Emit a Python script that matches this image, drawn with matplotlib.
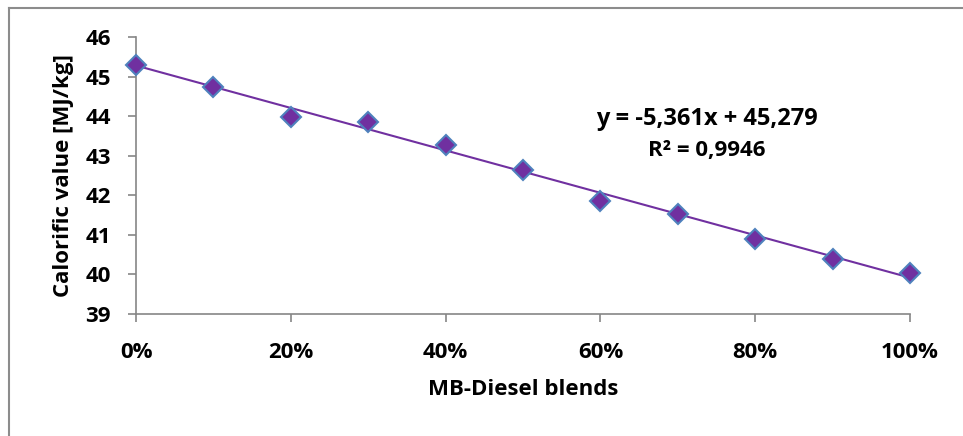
import numpy as np
import matplotlib.pyplot as plt
from matplotlib.lines import Line2D
from matplotlib.ticker import FuncFormatter

# ---- data ----
blend = [0.0, 0.1, 0.2, 0.3, 0.4, 0.5, 0.6, 0.7, 0.8, 0.9, 1.0]
calorific = [45.29, 44.74, 43.98, 43.85, 43.26, 42.64, 41.86, 41.52, 40.89, 40.38, 40.04]
slope = -5.361
intercept = 45.279
r2_text = "0,9946"

plt.rcParams['font.family'] = ['Open Sans', 'DejaVu Sans']
plt.rcParams['font.weight'] = 'bold'

W, H = 963, 436
FS = 16
fig = plt.figure(figsize=(W / 100, H / 100), dpi=100)
ax = fig.add_axes([136 / W, 1 - 314 / H, (910 - 136) / W, (314 - 37) / H])

# trendline
xs = np.array([blend[0], blend[-1]])
ax.plot(xs, slope * xs + intercept, color='#7030A0', lw=1.5, zorder=2)

# points
ax.plot(blend, calorific, linestyle='none', marker='D', markersize=10,
        markerfacecolor='#7030A0', markeredgecolor='#4F81BD', markeredgewidth=1.5,
        zorder=3, clip_on=False)

ax.set_xlim(0, 1)
ax.set_ylim(39, 46)
ax.set_xticks(np.arange(0, 1.01, 0.2))
ax.xaxis.set_major_formatter(FuncFormatter(lambda v, p: f"{v * 100:.0f}%"))
ax.set_yticks(range(39, 47))

gray = '#868686'
for s in ['top', 'right']:
    ax.spines[s].set_visible(False)
for s in ['left', 'bottom']:
    ax.spines[s].set_color(gray)
    ax.spines[s].set_linewidth(1.2)
ax.tick_params(axis='both', colors=gray, length=6, width=1.2, labelsize=FS,
               labelcolor='black')
ax.tick_params(axis='x', pad=14)
ax.tick_params(axis='y', pad=12)
for lab in ax.get_xticklabels() + ax.get_yticklabels():
    lab.set_fontweight('bold')

ax.set_xlabel("MB-Diesel blends", fontsize=FS, fontweight='bold', labelpad=12)
ax.set_ylabel("Calorific value [MJ/kg]", fontsize=FS, fontweight='bold', labelpad=8)

ax.text(707 / W, 1 - 119 / H, "y = -5,361x + 45,279", transform=fig.transFigure,
        ha='center', va='center', fontsize=FS + 1, fontweight='bold')
ax.text(707 / W, 1 - 150 / H, "R² = " + r2_text, transform=fig.transFigure,
        ha='center', va='center', fontsize=FS, fontweight='bold')

# outer chart frame (only left and top edges visible)
fig.add_artist(Line2D([9 / W, 9 / W], [0, 1 - 8 / H], color='#8C8C8C', lw=1.5))
fig.add_artist(Line2D([9 / W, 1], [1 - 8 / H, 1 - 8 / H], color='#8C8C8C', lw=1.5))

fig.savefig("out.png", dpi=100)
